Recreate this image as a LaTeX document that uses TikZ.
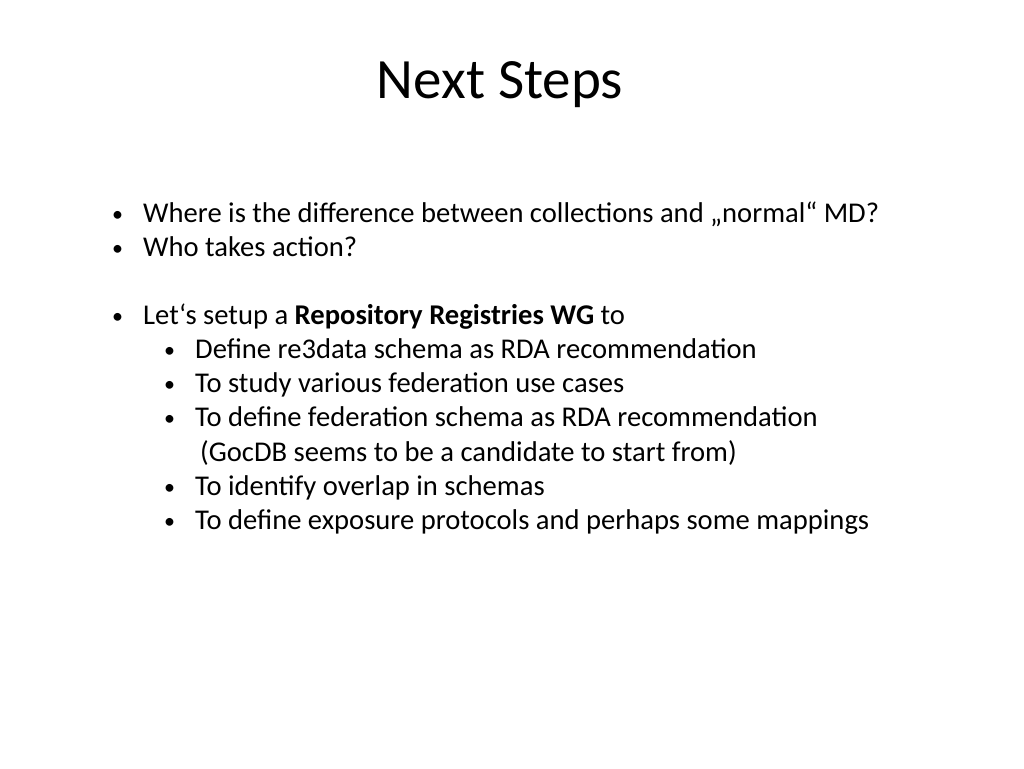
\documentclass[tikz,border=0pt]{standalone}
\usepackage{fontspec}
\setmainfont{Carlito}
\begin{document}
\begin{tikzpicture}[x=1pt,y=-1pt,
  txt/.style={anchor=base west,inner sep=0pt,font=\fontsize{28.6}{34}\selectfont},
  bul/.style={anchor=base west,inner sep=0pt,font=\fontsize{22}{26}\selectfont},
  ttl/.style={anchor=base,inner sep=0pt,font=\fontsize{57}{66}\selectfont}]
\useasboundingbox (0,0) rectangle (1024,768);
\node[ttl] (title) at (500,98) {Next Steps};
\node[bul] (b1) at (112,221) {•};
\node[txt] (t1) at (143,222) {Where is the difference between collections and „normal“ MD?};
\node[bul] (b2) at (112,255) {•};
\node[txt] (t2) at (143,256) {Who takes action?};
\node[bul] (b3) at (112,323) {•};
\node[txt] (t3) at (143,324) {Let‘s setup a \textbf{Repository Registries WG} to};
\node[bul] (b4) at (164,357) {•};
\node[txt] (t4) at (195,358) {Define re3data schema as RDA recommendation};
\node[bul] (b5) at (164,391) {•};
\node[txt] (t5) at (195,392) {To study various federation use cases};
\node[bul] (b6) at (164,425) {•};
\node[txt] (t6) at (195,426) {To define federation schema as RDA recommendation};
\node[txt] (t7) at (200,461) {(GocDB seems to be a candidate to start from)};
\node[bul] (b8) at (164,494) {•};
\node[txt] (t8) at (195,495) {To identify overlap in schemas};
\node[bul] (b9) at (164,528) {•};
\node[txt] (t9) at (195,529) {To define exposure protocols and perhaps some mappings};
\end{tikzpicture}
\end{document}
